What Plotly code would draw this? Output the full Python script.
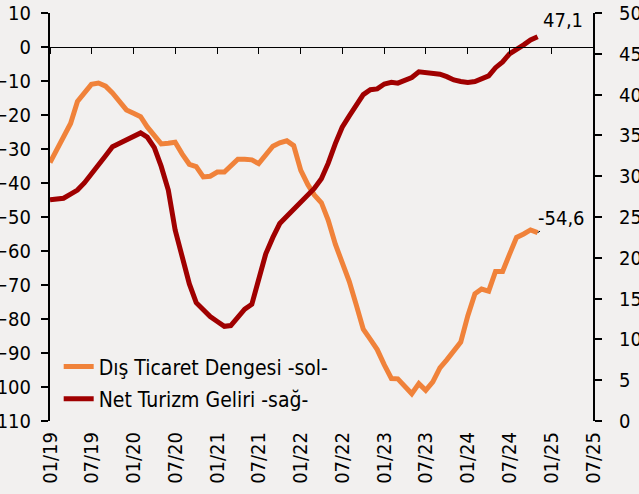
import pandas as pd
import plotly.graph_objects as go

months = pd.date_range("2019-01-01", periods=71, freq="MS")

dis_ticaret = [
    -34, -30, -26, -22.5, -16, -13.5, -11, -10.6, -11.5, -13.5,
    -16, -18.5, -19.5, -20.5, -23.5, -26, -28.5, -28.3, -28, -31.5,
    -34.5, -35.2, -38.2, -38, -36.8, -36.8, -35, -33, -33, -33.2,
    -34.3, -31.5, -29.2, -28.2, -27.6, -29, -36.3, -40.5, -43.5, -45.8,
    -51, -58, -63.5, -69, -76, -83, -86, -89, -93.5, -97.5,
    -97.6, -100, -102, -99, -101, -98.5, -94.4, -92, -89.5, -86.8,
    -79, -72.6, -71.2, -71.8, -66, -66, -61, -56, -55, -53.8,
    -54.6,
]

net_turizm = [
    27.1, 27.2, 27.3, 27.8, 28.3, 29.2, 30.2, 31.4, 32.5, 33.6,
    34.0, 34.4, 34.9, 35.3, 34.8, 33.5, 31.2, 28.3, 23.4, 20.0,
    16.8, 14.5, 13.6, 12.8, 12.2, 11.6, 11.7, 12.7, 13.7, 14.3,
    17.5, 20.5, 22.5, 24.2, 25.1, 26.0, 26.9, 27.7, 28.5, 29.7,
    31.6, 34.0, 36.0, 37.4, 38.6, 40.0, 40.6, 40.7, 41.3, 41.5,
    41.4, 41.7, 42.1, 42.8, 42.7, 42.6, 42.5, 42.2, 41.8, 41.6,
    41.5, 41.6, 41.9, 42.3, 43.3, 44.0, 45.0, 45.5, 46.1, 46.7,
    47.1,
]

series_names = ["Dış Ticaret Dengesi -sol-", "Net Turizm Geliri -sağ-"]
left_range = [-110, 10]
right_range = [0, 50]
x_range = ["2019-01-01", "2025-07-01"]

ORANGE = "#F0823A"
RED = "#A00000"
BG = "#F2F0EF"
FONT = "DejaVu Sans Condensed, DejaVu Sans, sans-serif"

fig = go.Figure()
fig.add_trace(go.Scatter(x=months, y=dis_ticaret, name=series_names[0], mode="lines",
                         line=dict(color=ORANGE, width=5), xaxis="x", yaxis="y",
                         legendgroup="a"))
fig.add_trace(go.Scatter(x=months, y=net_turizm, name=series_names[1], mode="lines",
                         line=dict(color=RED, width=5), xaxis="x2", yaxis="y2",
                         legendgroup="b"))

zero_pos = (0 - left_range[0]) / (left_range[1] - left_range[0])

fig.update_layout(
    width=639, height=494,
    margin=dict(l=50, r=46, t=13, b=73, autoexpand=False),
    paper_bgcolor=BG, plot_bgcolor=BG,
    font=dict(family=FONT, size=20, color="#000000"),
    showlegend=True,
    legend=dict(x=0.016, y=0.183, xanchor="left", yanchor="top",
                bgcolor="rgba(0,0,0,0)", font=dict(size=21),
                tracegroupgap=2, traceorder="grouped"),
    xaxis=dict(range=x_range, tick0="2019-01-01", dtick="M6", tickformat="%m/%y",
               tickangle=-90, showgrid=False, zeroline=False, showline=False,
               ticks="", anchor="y", automargin=False, ticklabelstandoff=6),
    xaxis2=dict(range=x_range, tick0="2019-01-01", dtick="M6", overlaying="x",
                anchor="free", position=zero_pos, showgrid=False, zeroline=False,
                showline=True, linecolor="#000000", linewidth=1,
                ticks="outside", ticklen=6, tickcolor="#000000",
                showticklabels=False, automargin=False),
    yaxis=dict(range=left_range, dtick=10, showgrid=False, zeroline=False,
               showline=True, linecolor="#000000", linewidth=2,
               ticks="outside", ticklen=7, tickwidth=2, tickcolor="#000000",
               ticklabelstandoff=6, automargin=False),
    yaxis2=dict(range=right_range, dtick=5, overlaying="y", side="right",
                anchor="x2", showgrid=False, zeroline=False,
                showline=True, linecolor="#000000", linewidth=2,
                ticks="outside", ticklen=7, tickwidth=2, tickcolor="#000000",
                ticklabelstandoff=13, automargin=False),
)

fmt = lambda v: f"{v:.1f}".replace(".", ",")

fig.add_annotation(x=months[-1], y=net_turizm[-1], xref="x2", yref="y2",
                   text=fmt(net_turizm[-1]), showarrow=False,
                   xshift=25, yshift=17, font=dict(size=20))
fig.add_annotation(x=months[-1], y=dis_ticaret[-1], xref="x", yref="y",
                   text=fmt(dis_ticaret[-1]), showarrow=True, arrowhead=0,
                   arrowwidth=1, arrowcolor="#000000", ax=24, ay=-15,
                   font=dict(size=20))

fig.write_html("out.html", config={"displayModeBar": False},
               post_script="document.body.style.margin='0';document.body.style.background='%s';" % BG)
